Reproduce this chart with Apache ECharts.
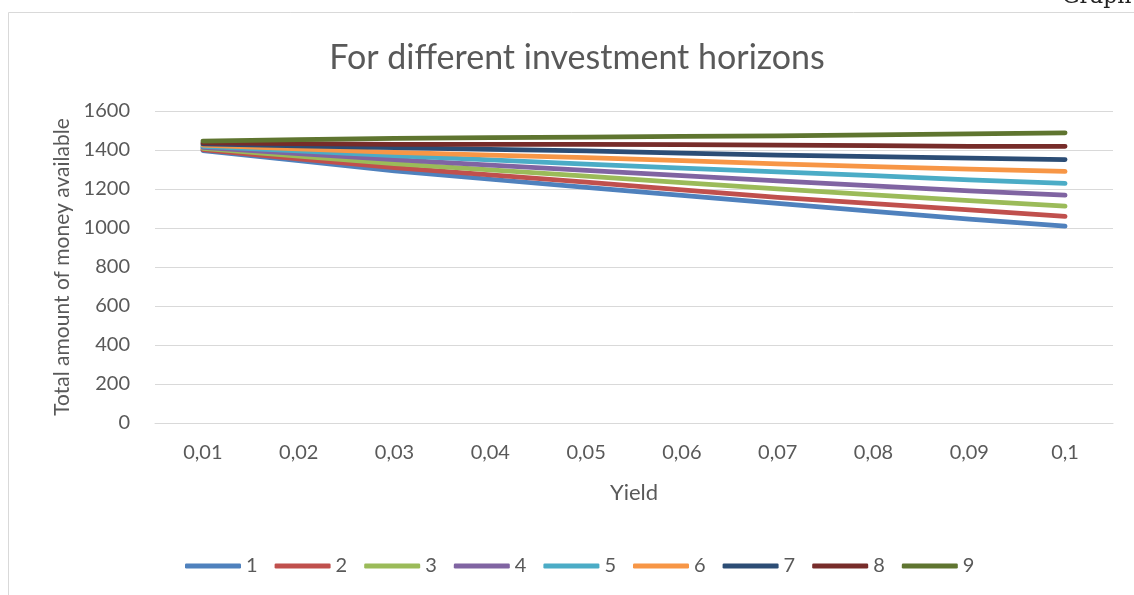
<!DOCTYPE html>
<html>
<head>
<meta charset="utf-8">
<script src="https://cdn.jsdelivr.net/npm/echarts@6/dist/echarts.min.js"></script>
<style>
  html, body { margin: 0; padding: 0; background: #ffffff; }
  #chart { width: 1134px; height: 595px; }
</style>
</head>
<body>
<div id="chart"></div>
<script>
// Yield levels on the x axis
const yields = ['0,01', '0,02', '0,03', '0,04', '0,05', '0,06', '0,07', '0,08', '0,09', '0,1'];

// Total money available for each investment horizon (1..9)
const horizon1 = [1397, 1345, 1293, 1250, 1208, 1167, 1126, 1085, 1045, 1010];
const horizon2 = [1402, 1355, 1310, 1272, 1235, 1196, 1157, 1125, 1093, 1060];
const horizon3 = [1408, 1369, 1330, 1298, 1266, 1233, 1201, 1170, 1140, 1112];
const horizon4 = [1413, 1382, 1351, 1323, 1296, 1269, 1242, 1216, 1191, 1169];
const horizon5 = [1419, 1395, 1371, 1349, 1327, 1307, 1288, 1268, 1247, 1229];
const horizon6 = [1425, 1406, 1388, 1374, 1361, 1345, 1329, 1315, 1302, 1290];
const horizon7 = [1431, 1421, 1412, 1403, 1395, 1384, 1374, 1366, 1358, 1351];
const horizon8 = [1437, 1433, 1429, 1429, 1429, 1427, 1425, 1422, 1419, 1419];
const horizon9 = [1446, 1453, 1460, 1463, 1466, 1470, 1473, 1478, 1483, 1488];

const horizonNames = ['1', '2', '3', '4', '5', '6', '7', '8', '9'];
const horizonData = [horizon1, horizon2, horizon3, horizon4, horizon5, horizon6, horizon7, horizon8, horizon9];
const palette = ['#4F81BD', '#C0504D', '#9BBB59', '#8064A2', '#4BACC6', '#F79646', '#2C4D75', '#772C2A', '#5F7530'];

const FONT = 'Lato';
const TEXT = '#595959';
const GRID = '#d9d9d9';

const chart = echarts.init(document.getElementById('chart'), null, { renderer: 'canvas' });

chart.setOption({
  animation: false,
  color: palette,
  textStyle: { fontFamily: FONT },
  title: {
    text: 'For different investment horizons',
    left: 572,
    top: 36,
    textAlign: 'center',
    textStyle: { fontFamily: FONT, fontSize: 34, fontWeight: 'normal', color: TEXT }
  },
  graphic: [
    {
      type: 'rect',
      shape: { x: 8.5, y: 12.5, width: 1200, height: 700 },
      style: { fill: 'none', stroke: GRID, lineWidth: 1 },
      silent: true
    },
    {
      type: 'text',
      left: 1062,
      top: -14,
      style: { text: 'Graph', font: '22px "DejaVu Serif", "Liberation Serif", serif', fill: '#222222' },
      silent: true
    }
  ],
  legend: {
    left: 180,
    top: 551,
    icon: 'roundRect',
    itemWidth: 56,
    itemHeight: 5,
    itemGap: 17,
    textStyle: { fontFamily: FONT, fontSize: 20, color: TEXT },
    data: horizonNames
  },
  grid: { left: 155, right: 21, top: 111, bottom: 172, containLabel: false },
  xAxis: {
    type: 'category',
    data: yields,
    boundaryGap: true,
    name: 'Yield',
    nameLocation: 'middle',
    nameGap: 59,
    nameTextStyle: { fontFamily: FONT, fontSize: 22, color: TEXT },
    axisLine: { show: true, lineStyle: { color: GRID, width: 1 } },
    axisTick: { show: false },
    axisLabel: { fontFamily: FONT, fontSize: 20, color: TEXT, margin: 20 }
  },
  yAxis: {
    type: 'value',
    min: 0,
    max: 1600,
    interval: 200,
    name: 'Total amount of money available',
    nameLocation: 'middle',
    nameGap: 82,
    nameTextStyle: { fontFamily: FONT, fontSize: 21, color: TEXT },
    axisLine: { show: false },
    axisTick: { show: false },
    axisLabel: { fontFamily: FONT, fontSize: 20, color: TEXT, margin: 25, formatter: (v) => String(v) },
    splitLine: { lineStyle: { color: GRID, width: 1 } }
  },
  series: horizonNames.map((name, i) => ({
    name: name,
    type: 'line',
    data: horizonData[i],
    showSymbol: false,
    symbol: 'none',
    smooth: false,
    lineStyle: { width: 4.75, cap: 'round', join: 'round', color: palette[i] },
    itemStyle: { color: palette[i] }
  }))
});
</script>
</body>
</html>
